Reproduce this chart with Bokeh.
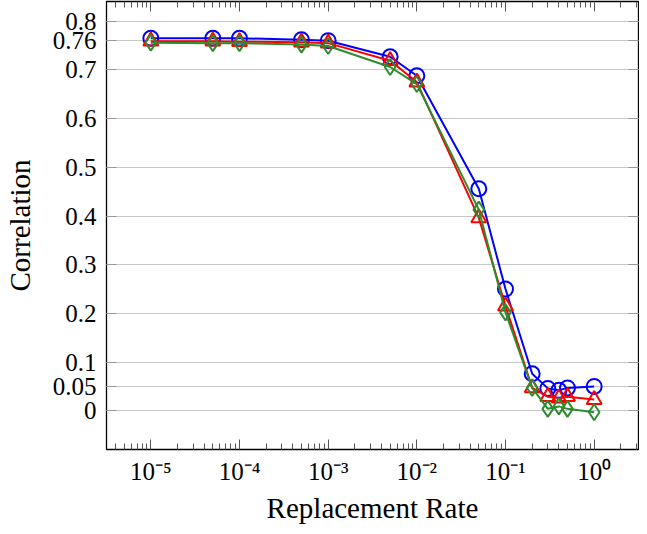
from bokeh.plotting import figure
from bokeh.models import Range1d, FixedTicker, LogAxis, LinearAxis, CustomJSTickFormatter
from bokeh.embed import file_html
from bokeh.resources import INLINE

# ---- data ----
rates = [1e-5, 5e-5, 1e-4, 5e-4, 1e-3, 5e-3, 1e-2, 5e-2, 0.1, 0.2, 0.3, 0.4, 0.5, 1.0]
blue_vals = [0.765, 0.765, 0.765, 0.762, 0.760, 0.727, 0.688, 0.456, 0.250, 0.076, 0.046, 0.042, 0.047, 0.050]
red_vals = [0.759, 0.759, 0.758, 0.757, 0.755, 0.719, 0.675, 0.396, 0.215, 0.047, 0.029, 0.026, 0.029, 0.023]
green_vals = [0.756, 0.755, 0.755, 0.752, 0.749, 0.706, 0.671, 0.413, 0.202, 0.047, 0.004, 0.009, 0.004, -0.003]

x_major = [1e-5, 1e-4, 1e-3, 1e-2, 1e-1, 1.0]
x_labels = ["10⁻⁵", "10⁻⁴", "10⁻³", "10⁻²", "10⁻¹", "10⁰"]
y_ticks = [0, 0.05, 0.1, 0.2, 0.3, 0.4, 0.5, 0.6, 0.7, 0.76, 0.8]
y_labels = ["0", "0.05", "0.1", "0.2", "0.3", "0.4", "0.5", "0.6", "0.7", "0.76", "0.8"]

FONT = "Liberation Serif"

x_minor = []
for e in range(-6, 1):
    for m in range(2, 10):
        x_minor.append(m * 10.0 ** e)

LOOKUP = """
let best = 0, bd = Infinity;
for (let i = 0; i < tv.length; i++) {
  const a = lg ? Math.log10(tv[i]) : tv[i];
  const b = lg ? Math.log10(tick) : tick;
  const d = Math.abs(a - b);
  if (d < bd) { bd = d; best = i; }
}
return lab[best];
"""

p = figure(width=639, height=534, x_axis_type="log",
           x_range=Range1d(10 ** -5.5, 10 ** 0.5), y_range=Range1d(-0.0795, 0.8405),
           output_backend="svg", toolbar_location=None,
           min_border_left=99, min_border_right=1, min_border_top=1, min_border_bottom=85)
p.outline_line_color = "black"
p.outline_line_width = 1.3
p.background_fill_color = "white"
p.border_fill_color = "white"

xticker = FixedTicker(ticks=x_major, minor_ticks=x_minor)
yticker = FixedTicker(ticks=y_ticks, minor_ticks=[])

p.xgrid.visible = False
p.ygrid.ticker = yticker
p.ygrid.grid_line_color = "#c8c8c8"
p.ygrid.grid_line_width = 1.2

xa = p.xaxis[0]
xa.ticker = xticker
xa.formatter = CustomJSTickFormatter(args=dict(tv=x_major, lab=x_labels, lg=True), code=LOOKUP)
xa.axis_line_color = None
xa.major_tick_in = 10
xa.major_tick_out = 0
xa.minor_tick_in = 6
xa.minor_tick_out = 0
xa.major_tick_line_color = "#555555"
xa.minor_tick_line_color = "#555555"
xa.major_label_standoff = 8
xa.major_label_text_font = FONT
xa.major_label_text_font_size = "25px"
xa.major_label_text_color = "black"
xa.axis_label = "Replacement Rate"
xa.axis_label_text_font = FONT
xa.axis_label_text_font_size = "29px"
xa.axis_label_text_font_style = "normal"
xa.axis_label_text_color = "black"
xa.axis_label_standoff = 4

ya = p.yaxis[0]
ya.ticker = yticker
ya.formatter = CustomJSTickFormatter(args=dict(tv=y_ticks, lab=y_labels, lg=False), code=LOOKUP)
ya.axis_line_color = None
ya.major_tick_in = 10
ya.major_tick_out = 0
ya.minor_tick_line_color = None
ya.major_tick_line_color = "#999999"
ya.major_label_standoff = 10
ya.major_label_text_font = FONT
ya.major_label_text_font_size = "25px"
ya.major_label_text_color = "black"
ya.major_label_text_align = "right"
ya.axis_label = "Correlation"
ya.axis_label_text_font = FONT
ya.axis_label_text_font_size = "29px"
ya.axis_label_text_font_style = "normal"
ya.axis_label_text_color = "black"
ya.axis_label_standoff = 14

top = LogAxis(ticker=xticker, axis_line_color=None, major_tick_in=10, major_tick_out=0,
              minor_tick_in=6, minor_tick_out=0, major_tick_line_color="#555555",
              minor_tick_line_color="#555555", major_label_text_font_size="1px",
              major_label_text_color=None, major_label_standoff=0)
p.add_layout(top, "above")
right = LinearAxis(ticker=yticker, axis_line_color=None, major_tick_in=10, major_tick_out=0,
                   minor_tick_line_color=None, major_tick_line_color="#999999",
                   major_label_text_font_size="1px", major_label_text_color=None,
                   major_label_standoff=0)
p.add_layout(right, "right")

series = [
    (blue_vals, "#0000ff", "circle", 15),
    (red_vals, "#ff0000", "triangle", 15),
    (green_vals, "#2e8b2e", "diamond", 16),
]
for vals, col, mk, sz in series:
    p.line(rates, vals, line_color=col, line_width=2)
    p.scatter(rates, vals, marker=mk, size=sz, line_color=col, line_width=2, fill_alpha=0)

open("out.html", "w").write(file_html(p, INLINE))
